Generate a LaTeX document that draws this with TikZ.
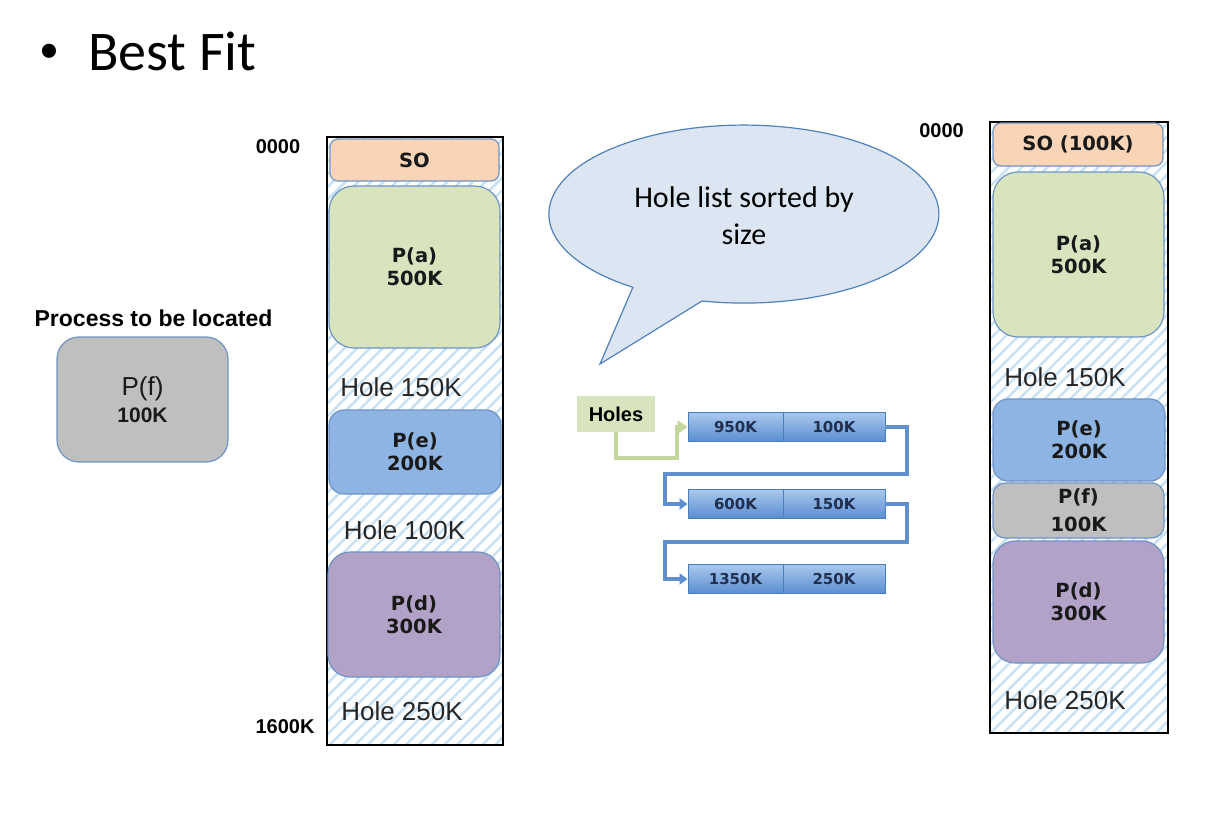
\documentclass[tikz,border=0pt]{standalone}
\usepackage{fontspec}
\setmainfont{Liberation Sans}
\newfontfamily\carlito{Carlito}
\newfontfamily\dejavu{DejaVu Sans}
\usepackage{xcolor}
\usetikzlibrary{shapes,arrows.meta,positioning,calc,patterns.meta}

\definecolor{soPeach}{HTML}{F9D4B6}
\definecolor{paGreen}{HTML}{D7E4BD}
\definecolor{peBlue}{HTML}{8EB4E3}
\definecolor{pdPurple}{HTML}{B3A2C7}
\definecolor{pfGray}{HTML}{BFBFBF}
\definecolor{procline}{HTML}{6E94C6}
\definecolor{hatch}{HTML}{C8E1F5}
\definecolor{bubbleFill}{HTML}{DCE6F2}
\definecolor{bubbleLine}{HTML}{4F81BD}
\definecolor{cellTop}{HTML}{A9C8EE}
\definecolor{cellBot}{HTML}{5A8DD0}
\definecolor{cellline}{HTML}{4A7EBB}
\definecolor{cellText}{HTML}{1F2F4F}
\definecolor{greenLink}{HTML}{C3D69B}
\definecolor{blueLink}{HTML}{5F8FCD}

\newcommand{\lblfont}{\dejavu\bfseries\fontsize{19.5}{23}\selectfont}
\newcommand{\holefont}{\fontsize{26}{30}\selectfont}
\newcommand{\addrfont}{\bfseries\fontsize{20}{24}\selectfont}
\newcommand{\cellfont}{\dejavu\bfseries\fontsize{15}{18}\selectfont}

\begin{document}
\begin{tikzpicture}[
    x=1pt, y=-1pt,
    memcol/.style={draw=black, line width=1.5pt, inner sep=0pt,
        pattern={Lines[angle=45,distance=9pt,line width=2.5pt]}, pattern color=hatch},
    proc/.style={draw=procline, line width=1.2pt, align=center, inner sep=0pt, font=\lblfont, text=black!90},
    hole/.style={font=\holefont, text=black!85, inner sep=0pt},
    addr/.style={font=\addrfont, inner sep=0pt},
    cell/.style={draw=cellline, line width=0.8pt, top color=cellTop, bottom color=cellBot,
        minimum height=29pt, inner sep=0pt, font=\cellfont, text=cellText},
    holelink/.style={line width=4pt, greenLink, -{Triangle[length=10pt,width=13pt]}},
    nextlink/.style={line width=4pt, blueLink, -{Triangle[length=8pt,width=11pt]}}
]
    \useasboundingbox (0,0) rectangle (1228,820);

    % Title
    \node[font=\carlito\fontsize{40}{44}\selectfont, inner sep=0pt] (bullet) at (49.5,53) {\textbullet};
    \node[font=\carlito\fontsize{56}{60}\selectfont, inner sep=0pt, anchor=base west] (title) at (88,70) {Best Fit};

    % Process to be located
    \node[font=\bfseries\fontsize{23}{26}\selectfont, inner sep=0pt] (toplace) at (153.5,318) {Process to be located};
    \node[proc, fill=pfGray, minimum width=171pt, minimum height=125pt, rounded corners=22pt,
        font=\fontsize{26}{27}\selectfont] (pf) at (142.5,399.5) {P(f)\\{\bfseries\fontsize{21}{24}\selectfont 100K}};

    % Memory before
    \node[memcol, minimum width=176pt, minimum height=608pt] (memL) at (415,441) {};
    \node[addr] (startL) at (278,147) {0000};
    \node[addr] (endL) at (285,727) {1600K};
    \node[proc, fill=soPeach, minimum width=169pt, minimum height=42pt, rounded corners=8pt] (soL) at (414.5,160) {SO};
    \node[proc, fill=paGreen, minimum width=171pt, minimum height=162pt, rounded corners=25pt] (paL) at (414.5,267) {P(a)\\500K};
    \node[hole] (h150L) at (401,387) {Hole 150K};
    \node[proc, fill=peBlue, minimum width=172pt, minimum height=84pt, rounded corners=15pt] (peL) at (415,452) {P(e)\\200K};
    \node[hole] (h100L) at (404.5,530) {Hole 100K};
    \node[proc, fill=pdPurple, minimum width=172pt, minimum height=125pt, rounded corners=22pt] (pdL) at (414,614.5) {P(d)\\300K};
    \node[hole] (h250L) at (402,711) {Hole 250K};

    % Callout
    \path[fill=bubbleFill, draw=bubbleLine, line width=1.2pt] (702,301)
        arc[start angle=102.4, end angle=-235.3, x radius=195, y radius=89] -- (600,364) -- cycle;
    \node[font=\carlito\fontsize{30}{37}\selectfont, align=center, inner sep=0pt] (note) at (744,216)
        {Hole list sorted by\\size};

    % Hole list
    \node[fill=paGreen, minimum width=78pt, minimum height=36pt, inner sep=0pt,
        font=\bfseries\fontsize{20}{24}\selectfont] (holes) at (616,414) {Holes};
    \node[cell, minimum width=95pt] (c950) at (735.5,427) {950K};
    \node[cell, minimum width=102pt] (c100) at (834,427) {100K};
    \node[cell, minimum width=95pt] (c600) at (735.5,504) {600K};
    \node[cell, minimum width=102pt] (c150) at (834,504) {150K};
    \node[cell, minimum width=95pt] (c1350) at (735.5,579) {1350K};
    \node[cell, minimum width=102pt] (c250) at (834,579) {250K};

    \coordinate (g1) at (677,458);
    \coordinate (r1) at (907,474);
    \coordinate (l1) at (665,474);
    \coordinate (r2) at (907,542);
    \coordinate (l2) at (665,542);
    \draw[holelink] (holes.south) |- (g1) |- (c950.west);
    \draw[nextlink] (c100.east) -| (r1) -- (l1) |- (c600.west);
    \draw[nextlink] (c150.east) -| (r2) -- (l2) |- (c1350.west);

    % Memory after
    \node[memcol, minimum width=178pt, minimum height=611pt] (memR) at (1079,427.5) {};
    \node[addr] (startR) at (941.5,131) {0000};
    \node[proc, fill=soPeach, minimum width=170pt, minimum height=43pt, rounded corners=8pt] (soR) at (1078,144.5) {SO (100K)};
    \node[proc, fill=paGreen, minimum width=171pt, minimum height=165pt, rounded corners=25pt] (paR) at (1078.5,254.5) {P(a)\\500K};
    \node[hole] (h150R) at (1065,377) {Hole 150K};
    \node[proc, fill=peBlue, minimum width=172pt, minimum height=82pt, rounded corners=15pt] (peR) at (1079,440) {P(e)\\200K};
    \node[proc, fill=pfGray, minimum width=171pt, minimum height=55pt, rounded corners=12pt] (pfR) at (1078.5,510.5) {P(f)\\[5pt]100K};
    \node[proc, fill=pdPurple, minimum width=171pt, minimum height=122pt, rounded corners=22pt] (pdR) at (1078.5,602) {P(d)\\300K};
    \node[hole] (h250R) at (1065,700) {Hole 250K};
\end{tikzpicture}
\end{document}
